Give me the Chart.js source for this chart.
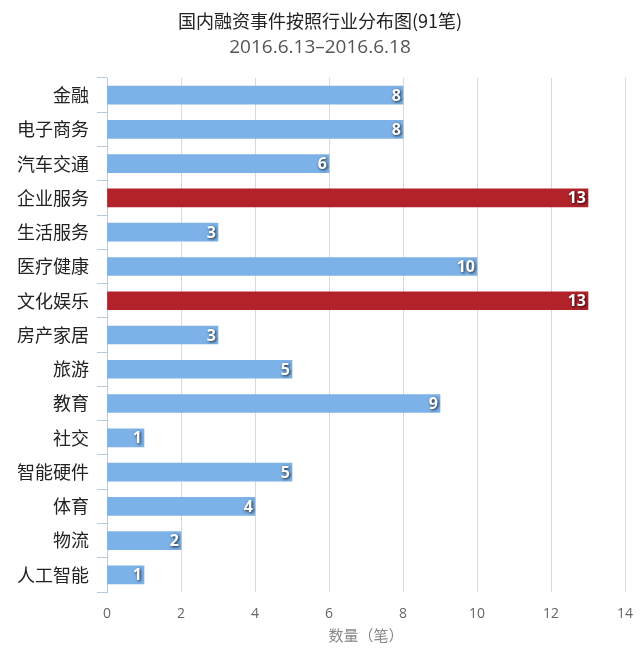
<!DOCTYPE html>
<html><head><meta charset="utf-8">
<script src="https://cdn.jsdelivr.net/npm/chart.js@4"></script>
<style>html,body{margin:0;padding:0;background:#fff}#wrap{width:640px;height:660px}</style>
</head><body><div id="wrap"><canvas id="c" width="640" height="660"></canvas></div>
<script>
const titleText = "国内融资事件按照行业分布图(91笔)";
const subtitleText = "2016.6.13–2016.6.18";
const categories = ["金融","电子商务","汽车交通","企业服务","生活服务","医疗健康","文化娱乐","房产家居","旅游","教育","社交","智能硬件","体育","物流","人工智能"];
const counts = [8,8,6,13,3,10,13,3,5,9,1,5,4,2,1];
const highlighted = ["企业服务","文化娱乐"];
const xTicks = [0,2,4,6,8,10,12,14];
const xTitle = "数量（笔）";

const BLUE = "#7cb2e8", RED = "#b2222b";
const CJK = "'Noto Sans CJK SC', sans-serif";

const titlePlugin = {
  id: 'titles',
  afterDraw(chart){
    const ctx = chart.ctx;
    ctx.save();
    ctx.textAlign = 'center'; ctx.textBaseline = 'middle';
    ctx.fillStyle = '#222';
    ctx.font = "18px " + CJK;
    ctx.fillText(titleText, 320, 21);
    ctx.fillStyle = '#555';
    ctx.font = "19px 'Open Sans', sans-serif";
    ctx.fillText(subtitleText, 320, 48);
    ctx.restore();
  }
};
const labelPlugin = {
  id: 'barLabels',
  afterDatasetsDraw(chart){
    const ctx = chart.ctx;
    const meta = chart.getDatasetMeta(0);
    ctx.save();
    ctx.font = "bold 16px 'Open Sans', sans-serif";
    ctx.textAlign = 'right'; ctx.textBaseline = 'middle';
    meta.data.forEach((bar, i) => {
      const t = String(counts[i]);
      ctx.shadowColor = 'rgba(0,0,0,0.85)';
      ctx.shadowBlur = 3; ctx.shadowOffsetX = 1; ctx.shadowOffsetY = 1;
      ctx.fillStyle = '#fff';
      ctx.fillText(t, bar.x - 2, bar.y + 1);
    });
    ctx.restore();
  }
};

new Chart(document.getElementById('c'), {
  type: 'bar',
  data: {
    labels: categories,
    datasets: [{
      data: counts,
      backgroundColor: categories.map(c => highlighted.includes(c) ? RED : BLUE),
      barThickness: 18,
      borderWidth: 0
    }]
  },
  options: {
    indexAxis: 'y',
    responsive: false,
    animation: false,
    layout: { padding: { top: 78, right: 0, left: 0, bottom: 12 } },
    plugins: { legend: { display: false }, tooltip: { enabled: false }, title: { display: false } },
    scales: {
      x: {
        min: 0, max: 14,
        afterBuildTicks(s){ s.ticks = xTicks.map(v => ({ value: v })); },
        afterFit(s){ s.height = 56; s.paddingRight = 15; },
        grid: { color: '#d9d9d9', lineWidth: 1, drawTicks: false },
        border: { display: false },
        ticks: { color: '#666', font: { size: 14, family: "'Open Sans', sans-serif" }, padding: 14 },
        title: { display: true, text: xTitle, color: '#888', font: { size: 15, family: CJK }, padding: { top: 2 } }
      },
      y: {
        afterFit(s){ s.width = 107; },
        grid: { offset: true, drawOnChartArea: false, tickLength: 10, color: '#b9c9dc' },
        border: { display: true, color: '#b9c9dc' },
        ticks: { color: '#222', font: { size: 18, family: CJK }, padding: 8 }
      }
    }
  },
  plugins: [titlePlugin, labelPlugin]
});
</script></body></html>
